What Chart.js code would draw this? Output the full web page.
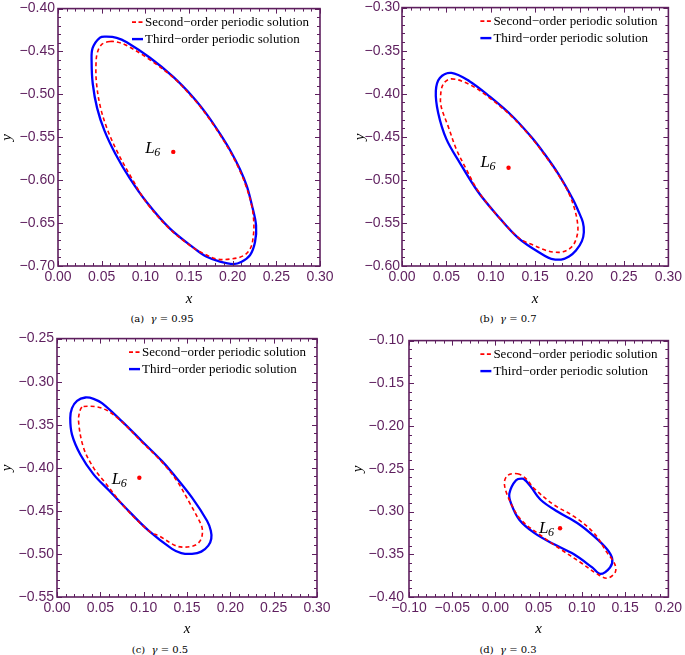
<!DOCTYPE html>
<html><head><meta charset="utf-8">
<script src="https://cdn.jsdelivr.net/npm/chart.js@4.4.0/dist/chart.umd.min.js"></script>
<style>
html,body{margin:0;padding:0;background:#fff;}
body{width:685px;height:655px;position:relative;overflow:hidden;}
canvas.panel{position:absolute;}
.cap{position:absolute;font-family:"DejaVu Serif","Liberation Serif",serif;font-size:10px;color:#000;transform:translate(-50%,-50%);white-space:nowrap;z-index:2;}
</style></head><body>
<canvas id="pa" class="panel" width="340" height="307" style="left:0px;top:0px"></canvas>
<canvas id="pb" class="panel" width="345" height="307" style="left:340px;top:0px"></canvas>
<canvas id="pc" class="panel" width="340" height="307" style="left:0px;top:330px"></canvas>
<canvas id="pd" class="panel" width="345" height="307" style="left:340px;top:330px"></canvas>
<div class="cap" style="left:162px;top:318px">(a)&nbsp; <i>γ</i> = 0.95</div>
<div class="cap" style="left:508px;top:318px">(b)&nbsp; <i>γ</i> = 0.7</div>
<div class="cap" style="left:160px;top:649px">(c)&nbsp; <i>γ</i> = 0.5</div>
<div class="cap" style="left:508px;top:649px">(d)&nbsp; <i>γ</i> = 0.3</div>
<script>
// ---------- DATA ----------
const legendLabels = ['Second\u2212order periodic solution', 'Third\u2212order periodic solution'];
const gammaValues = [0.95, 0.7, 0.5, 0.3];

// Panel (a) gamma = 0.95
const aXRange = [0.00, 0.30];
const aYRange = [-0.70, -0.40];
const aL6 = [0.132, -0.567];
const aThird = [[0.0557,-0.4327],[0.0672,-0.4340],[0.0787,-0.4392],[0.1053,-0.4573],[0.1320,-0.4796],[0.1549,-0.5035],[0.1710,-0.5241],[0.1858,-0.5464],[0.1979,-0.5666],[0.2082,-0.5870],[0.2162,-0.6070],[0.2219,-0.6286],[0.2268,-0.6527],[0.2256,-0.6720],[0.2199,-0.6873],[0.2103,-0.6950],[0.2007,-0.6977],[0.1855,-0.6950],[0.1703,-0.6893],[0.1588,-0.6815],[0.1282,-0.6565],[0.1016,-0.6258],[0.0819,-0.5974],[0.0658,-0.5695],[0.0532,-0.5423],[0.0448,-0.5160],[0.0398,-0.4876],[0.0385,-0.4622],[0.0396,-0.4462],[0.0481,-0.4338]];
const aSecond = [[0.0595,-0.4384],[0.0687,-0.4392],[0.0787,-0.4430],[0.1016,-0.4571],[0.1317,-0.4802],[0.1546,-0.5044],[0.1706,-0.5246],[0.1855,-0.5471],[0.1975,-0.5673],[0.2076,-0.5875],[0.2153,-0.6071],[0.2216,-0.6285],[0.2242,-0.6489],[0.2236,-0.6654],[0.2204,-0.6792],[0.2122,-0.6881],[0.1970,-0.6919],[0.1817,-0.6919],[0.1664,-0.6853],[0.1549,-0.6789],[0.1282,-0.6571],[0.1016,-0.6264],[0.0842,-0.5973],[0.0687,-0.5685],[0.0567,-0.5413],[0.0487,-0.5154],[0.0441,-0.4871],[0.0435,-0.4646],[0.0452,-0.4508],[0.0504,-0.4415]];

// Panel (b) gamma = 0.7
const bXRange = [0.00, 0.30];
const bYRange = [-0.60, -0.30];
const bL6 = [0.120, -0.486];
const bThird = [[0.0556,-0.3758],[0.0759,-0.3854],[0.0981,-0.4027],[0.1240,-0.4258],[0.1462,-0.4508],[0.1596,-0.4686],[0.1762,-0.4933],[0.1929,-0.5233],[0.1987,-0.5365],[0.2037,-0.5492],[0.2048,-0.5608],[0.2026,-0.5711],[0.1959,-0.5821],[0.1881,-0.5890],[0.1792,-0.5925],[0.1681,-0.5916],[0.1611,-0.5885],[0.1314,-0.5680],[0.1056,-0.5392],[0.0854,-0.5135],[0.0648,-0.4796],[0.0500,-0.4527],[0.0407,-0.4220],[0.0381,-0.3969],[0.0426,-0.3816]];
const bSecond = [[0.0556,-0.3827],[0.0759,-0.3892],[0.0981,-0.4044],[0.1240,-0.4269],[0.1462,-0.4517],[0.1596,-0.4696],[0.1737,-0.4904],[0.1864,-0.5123],[0.1942,-0.5331],[0.1981,-0.5546],[0.1964,-0.5677],[0.1914,-0.5775],[0.1814,-0.5835],[0.1703,-0.5838],[0.1611,-0.5815],[0.1481,-0.5758],[0.1326,-0.5683],[0.1059,-0.5398],[0.0858,-0.5130],[0.0722,-0.4873],[0.0611,-0.4642],[0.0518,-0.4373],[0.0448,-0.4177],[0.0433,-0.4065],[0.0462,-0.3892]];

// Panel (c) gamma = 0.5
const cXRange = [0.00, 0.30];
const cYRange = [-0.55, -0.25];
const cL6 = [0.095, -0.4115];
const cThird = [[0.0327,-0.3184],[0.0422,-0.3199],[0.0519,-0.3250],[0.0750,-0.3461],[0.0981,-0.3692],[0.1212,-0.3923],[0.1327,-0.4055],[0.1558,-0.4346],[0.1731,-0.4615],[0.1775,-0.4730],[0.1780,-0.4823],[0.1746,-0.4903],[0.1665,-0.4973],[0.1558,-0.4999],[0.1434,-0.4990],[0.1327,-0.4941],[0.1057,-0.4730],[0.0788,-0.4461],[0.0598,-0.4261],[0.0422,-0.4076],[0.0269,-0.3845],[0.0173,-0.3615],[0.0153,-0.3423],[0.0173,-0.3308],[0.0231,-0.3222]];
const cSecond = [[0.0307,-0.3288],[0.0519,-0.3308],[0.0711,-0.3432],[0.0981,-0.3703],[0.1212,-0.3934],[0.1385,-0.4153],[0.1538,-0.4422],[0.1630,-0.4592],[0.1673,-0.4692],[0.1676,-0.4776],[0.1653,-0.4846],[0.1607,-0.4892],[0.1538,-0.4915],[0.1446,-0.4921],[0.1365,-0.4903],[0.1172,-0.4788],[0.1077,-0.4748],[0.0788,-0.4467],[0.0557,-0.4173],[0.0422,-0.4000],[0.0307,-0.3769],[0.0249,-0.3461],[0.0269,-0.3326]];

// Panel (d) gamma = 0.3
const dXRange = [-0.10, 0.20];
const dYRange = [-0.40, -0.10];
const dL6 = [0.0747, -0.3196];
const dThird = [[0.0314,-0.2615],[0.0353,-0.2642],[0.0410,-0.2711],[0.0525,-0.2865],[0.0716,-0.3000],[0.0946,-0.3134],[0.1138,-0.3288],[0.1291,-0.3442],[0.1351,-0.3557],[0.1325,-0.3654],[0.1215,-0.3730],[0.1119,-0.3654],[0.0908,-0.3500],[0.0678,-0.3384],[0.0448,-0.3250],[0.0276,-0.3096],[0.0180,-0.2904],[0.0161,-0.2788],[0.0238,-0.2634]];
const dSecond = [[0.0256,-0.2557],[0.0353,-0.2615],[0.0448,-0.2731],[0.0678,-0.2923],[0.0908,-0.3057],[0.1138,-0.3250],[0.1291,-0.3481],[0.1380,-0.3615],[0.1385,-0.3711],[0.1291,-0.3780],[0.1176,-0.3730],[0.0985,-0.3596],[0.0755,-0.3442],[0.0563,-0.3308],[0.0295,-0.3096],[0.0161,-0.2865],[0.0103,-0.2673],[0.0141,-0.2577]];

const tickStep = 0.05;
const minorStep = 0.01;

// ---------- STYLE / DRAW ----------
const PURPLE = '#5e1f5e';

function fmt(v) {
  const s = Math.abs(v).toFixed(2);
  return (v < -1e-9 ? '\u2212' : '') + s;
}
// closed loop: pad with neighbours so the spline is smooth at the seam, hide pad segments
function wrap(pts) {
  const n = pts.length;
  const seq = [pts[n-1], ...pts, pts[0], pts[1]];
  return seq.map(p => ({x: p[0], y: p[1]}));
}

const framePlugin = {
  id: 'frame',
  afterDatasetsDraw(chart) {
    const o = chart.options.plugins.frame;
    const {ctx, chartArea: {left, right, top, bottom}} = chart;
    const xs = chart.scales.x, ys = chart.scales.y;
    ctx.save();
    ctx.strokeStyle = PURPLE;
    ctx.lineWidth = 1;
    ctx.beginPath();
    const nx = Math.round((xs.max - xs.min) / minorStep);
    for (let i = 0; i <= nx; i++) {
      const v = xs.min + i * minorStep;
      const px = Math.round(xs.getPixelForValue(v)) + 0.5;
      const len = (i % 5 === 0) ? 5 : 3;
      ctx.moveTo(px, bottom); ctx.lineTo(px, bottom - len);
      ctx.moveTo(px, top); ctx.lineTo(px, top + len);
    }
    const ny = Math.round((ys.max - ys.min) / minorStep);
    for (let i = 0; i <= ny; i++) {
      const v = ys.min + i * minorStep;
      const py = Math.round(ys.getPixelForValue(v)) + 0.5;
      const len = (i % 5 === 0) ? 5 : 3;
      ctx.moveTo(left, py); ctx.lineTo(left + len, py);
      ctx.moveTo(right, py); ctx.lineTo(right - len, py);
    }
    ctx.stroke();
    ctx.lineWidth = 1.6;
    ctx.strokeRect(left, top, right - left, bottom - top);

    // L6 label
    const l6 = chart.data.datasets[2].data[0];
    const px = xs.getPixelForValue(l6.x), py = ys.getPixelForValue(l6.y);
    ctx.fillStyle = '#000';
    ctx.textBaseline = 'alphabetic';
    ctx.textAlign = 'left';
    ctx.font = 'italic 17px "Liberation Serif"';
    const lx = px + o.lDx, ly = py + o.lDy;
    ctx.fillText('L', lx, ly);
    const lw = ctx.measureText('L').width;
    ctx.font = 'italic 12px "Liberation Serif"';
    ctx.fillText('6', lx + lw - 0.5, ly + 3);

    // legend
    const tx = right - 175;
    ctx.font = '13px "Liberation Serif"';
    ctx.fillText(legendLabels[0], tx, top + 17.5);
    ctx.fillText(legendLabels[1], tx, top + 34.5);
    ctx.strokeStyle = '#ff0000';
    ctx.lineWidth = 1.6;
    ctx.setLineDash([4, 2.5]);
    ctx.beginPath(); ctx.moveTo(right - 188, top + 13.5); ctx.lineTo(right - 177, top + 13.5); ctx.stroke();
    ctx.setLineDash([]);
    ctx.strokeStyle = '#0000ff';
    ctx.lineWidth = 2.4;
    ctx.beginPath(); ctx.moveTo(right - 188, top + 30.5); ctx.lineTo(right - 177, top + 30.5); ctx.stroke();
    ctx.restore();
  }
};

function makePanel(id, xr, yr, second, third, l6, geo) {
  const cv = document.getElementById(id);
  const W = cv.width, H = cv.height;
  const segHide = (len) => ({
    borderColor: ctx => (ctx.p0DataIndex === 0 || ctx.p1DataIndex === len - 1) ? 'rgba(0,0,0,0)' : undefined
  });
  const sData = wrap(second), tData = wrap(third);
  new Chart(cv, {
    type: 'scatter',
    data: {
      datasets: [
        {label: legendLabels[0], data: sData, showLine: true, borderColor: '#ff0000', borderWidth: 1.6,
         borderDash: [4, 3], pointRadius: 0, tension: 0.35, order: 1, segment: segHide(sData.length)},
        {label: legendLabels[1], data: tData, showLine: true, borderColor: '#0000ff', borderWidth: 2.3,
         pointRadius: 0, tension: 0.35, order: 2, segment: segHide(tData.length)},
        {label: 'L6', data: [{x: l6[0], y: l6[1]}], showLine: false, pointRadius: 2.2,
         backgroundColor: '#ff0000', borderWidth: 0, order: 0}
      ]
    },
    options: {
      responsive: false, animation: false, events: [],
      layout: {padding: {left: geo.padL, top: geo.T, right: W - geo.R, bottom: 0}},
      plugins: {legend: {display: false}, tooltip: {enabled: false},
                frame: {lDx: geo.lDx, lDy: geo.lDy}},
      scales: {
        x: {
          type: 'linear', min: xr[0], max: xr[1],
          ticks: {stepSize: tickStep, autoSkip: false, maxRotation: 0, callback: v => fmt(v),
                  color: PURPLE, font: {family: '"Liberation Sans"', size: 14}, padding: 3},
          grid: {display: false, drawTicks: false}, border: {display: false},
          title: {display: true, text: 'x', color: '#000', padding: 0,
                  font: {family: '"Liberation Serif"', style: 'italic', size: 15, lineHeight: 1}},
          afterFit: s => { s.height = H - geo.B; }
        },
        y: {
          type: 'linear', min: yr[0], max: yr[1],
          ticks: {stepSize: tickStep, autoSkip: false, callback: v => fmt(v),
                  color: PURPLE, font: {family: '"Liberation Sans"', size: 14, lineHeight: 0.8}, padding: geo.tp},
          grid: {display: false, drawTicks: false}, border: {display: false},
          title: {display: true, text: 'y', color: '#000', padding: 0,
                  font: {family: '"Liberation Serif"', style: 'italic', size: 15, lineHeight: 1}},
          afterFit: s => { s.width = geo.L - geo.padL; }
        }
      }
    },
    plugins: [framePlugin]
  });
}

makePanel('pa', aXRange, aYRange, aSecond, aThird, aL6, {L: 58, R: 320, T: 6, B: 266, padL: 0, tp: 3, lDx: -28, lDy: 1});
makePanel('pb', bXRange, bYRange, bSecond, bThird, bL6, {L: 62, R: 332, T: 6, B: 266, padL: 12.5, tp: 2, lDx: -28, lDy: -1});
makePanel('pc', cXRange, cYRange, cSecond, cThird, cL6, {L: 57, R: 317, T: 7, B: 267, padL: 0, tp: 3, lDx: -27.5, lDy: 6.5});
makePanel('pd', dXRange, dYRange, dSecond, dThird, dL6, {L: 69, R: 330, T: 7, B: 267, padL: 10.5, tp: 5, lDx: -21, lDy: 4.7});
</script>
</body></html>
